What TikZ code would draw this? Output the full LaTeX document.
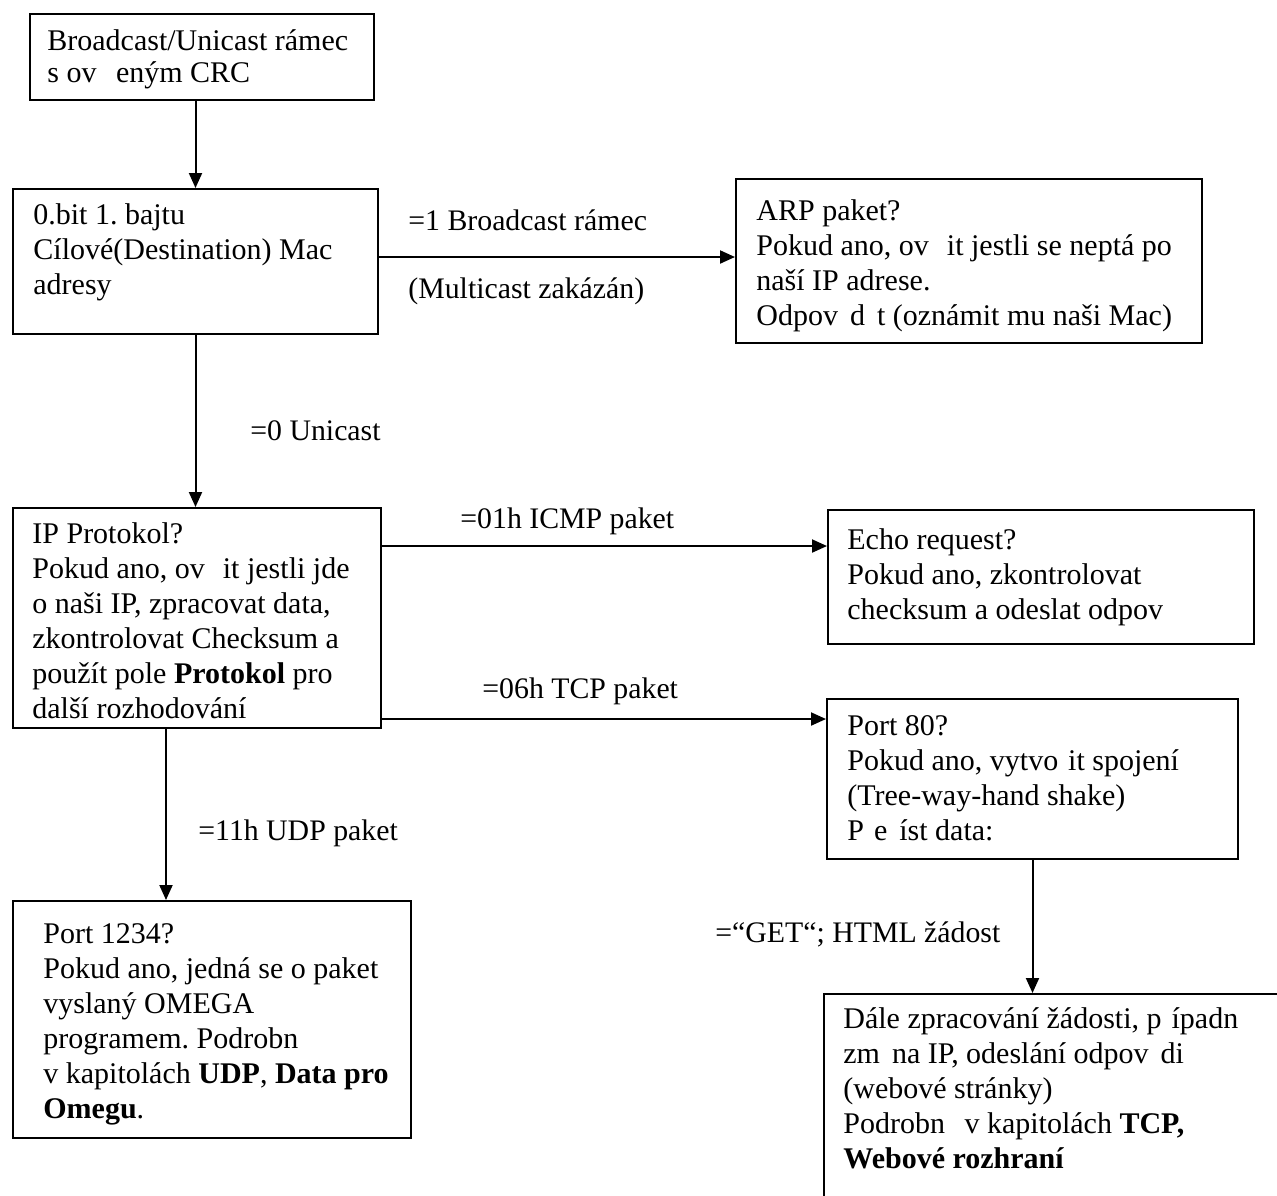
\documentclass[tikz,border=0pt]{standalone}
\usepackage{fontspec}
\setmainfont{Liberation Serif}
\usetikzlibrary{arrows.meta}
\frenchspacing
\newcommand{\gp}[1]{\hspace*{#1em}}
\newcommand{\tb}[1]{\begin{minipage}[t]{330pt}\raggedright\frenchspacing #1\end{minipage}}
\begin{document}
\begin{tikzpicture}[x=0.5pt,y=-0.5pt,
  box/.style={draw, line width=1pt, anchor=north west, inner sep=0pt},
  txt/.style={anchor=base west, inner sep=0pt, font=\fontsize{15}{17.5}\selectfont},
  lbl/.style={anchor=base west, inner sep=0pt, font=\fontsize{14.9}{17.5}\selectfont},
  arr/.style={line width=1pt, -{Triangle[length=7.5pt,width=6.5pt]}}]
\useasboundingbox (0,0) rectangle (1277,1195);
\clip (0,0) rectangle (1277,1195);
\fill[white] (0,0) rectangle (1277,1195);

% boxes
\node[box, minimum width=172pt, minimum height=43pt] (b1) at (29,13) {};
\node[box, minimum width=182.5pt, minimum height=72.5pt] (b2) at (12,188) {};
\node[box, minimum width=233pt, minimum height=82pt] (b3) at (735,178) {};
\node[box, minimum width=184pt, minimum height=110pt] (b4) at (12,507) {};
\node[box, minimum width=213pt, minimum height=67pt] (b5) at (827,509) {};
\node[box, minimum width=205.5pt, minimum height=80pt] (b6) at (826,698) {};
\node[box, minimum width=250pt, minimum height=125pt] (b7) at (823,993) {};
\node[box, minimum width=199pt, minimum height=118.5pt] (b8) at (12,900) {};

% box texts
\node[txt, font=\fontsize{15}{16}\selectfont] (t1) at (47,50) {\tb{Broadcast/Unicast rámec\\s ov\gp{0.65}eným CRC}};
\node[txt] (t2) at (33,224) {\tb{0.bit 1. bajtu\\Cílové(Destination) Mac\\adresy}};
\node[txt] (t3) at (756,220) {\tb{ARP paket?\\Pokud ano, ov\gp{0.6}it jestli se neptá po\\naší IP adrese.\\Odpov\gp{0.4}d\gp{0.4}t (oznámit mu naši Mac)}};
\node[txt] (t4) at (32,543) {\tb{IP Protokol?\\Pokud ano, ov\gp{0.6}it jestli jde\\o naši IP, zpracovat data,\\zkontrolovat Checksum a\\použít pole \textbf{Protokol} pro\\další rozhodování}};
\node[txt] (t5) at (847,549) {\tb{Echo request?\\Pokud ano, zkontrolovat\\checksum a odeslat odpov}};
\node[txt] (t6) at (847,735) {\tb{Port 80?\\Pokud ano, vytvo\gp{0.333}it spojení\\(Tree-way-hand shake)\\P\gp{0.333}e\gp{0.4}íst data:}};
\node[txt] (t7) at (843,1028) {\tb{Dále zpracování žádosti, p\gp{0.333}ípadn\\zm\gp{0.4}na IP, odeslání odpov\gp{0.4}di\\(webové stránky)\\Podrobn\gp{0.4} v kapitolách \textbf{TCP,}\\\textbf{Webové rozhraní}}};
\node[txt] (t8) at (43,943) {\tb{Port 1234?\\Pokud ano, jedná se o paket\\vyslaný OMEGA\\programem. Podrobn\\v kapitolách \textbf{UDP}, \textbf{Data pro}\\\textbf{Omegu}.}};

% connector labels
\node[lbl] (l1) at (408,230) {=1 Broadcast rámec};
\node[lbl] (l2) at (408,298) {(Multicast zakázán)};
\node[lbl] (l3) at (250,440) {=0 Unicast};
\node[lbl] (l4) at (460,528) {=01h ICMP paket};
\node[lbl] (l5) at (482,698) {=06h TCP paket};
\node[lbl] (l6) at (198,840) {=11h UDP paket};
\node[lbl] (l7) at (715,942) {=“GET“; HTML žádost};

% helper coordinates for connector heights
\coordinate (c1) at (550,257);
\coordinate (c2) at (600,546);
\coordinate (c3) at (600,719);
\coordinate (c4) at (166,800);

% connectors
\draw[arr] (b1.south -| b2.north) -- (b2.north);
\draw[arr] (b2.east |- c1) -- (b3.west |- c1);
\draw[arr] (b2.south) -- (b2.south |- b4.north);
\draw[arr] (b4.east |- c2) -- (b5.west |- c2);
\draw[arr] (b4.east |- c3) -- (b6.west |- c3);
\draw[arr] (b4.south -| c4) -- (b8.north -| c4);
\draw[arr] (b6.south) -- (b6.south |- b7.north);
\end{tikzpicture}
\end{document}
